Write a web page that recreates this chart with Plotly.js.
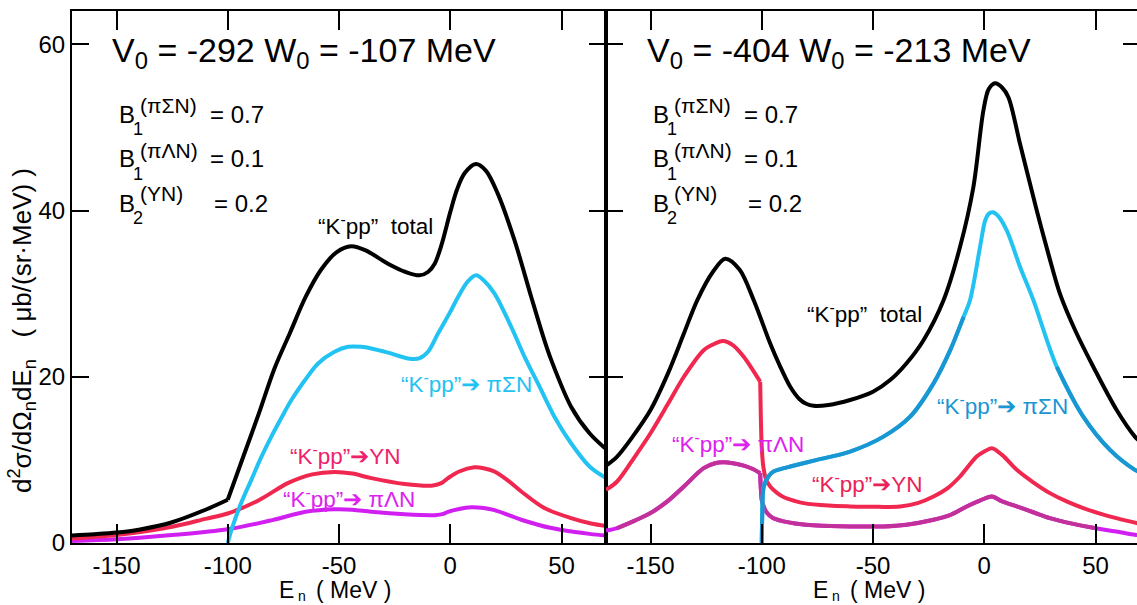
<!DOCTYPE html>
<html>
<head>
<meta charset="utf-8">
<script src="https://cdn.plot.ly/plotly-3.0.1.min.js"></script>
<style>
html,body{margin:0;padding:0;overflow:hidden;background:#fff;}
#chart{width:1140px;height:605px;}
</style>
</head>
<body>
<div id="chart"></div>
<script>
// ---------- Left panel: V0=-292, W0=-107 MeV ----------
const L_total_x = [-170,-160,-150,-140,-125,-110,-100,-93,-86,-79,-72,-65,-58,-51,-44.5,-38,-28,-20,-13.8,-10,-7,-4,0,3,6.5,11.5,16,21.4,28.9,36.4,42.3,45.4,54.3,62.6,70];
const L_total_y = [0.9,1.05,1.25,1.6,2.5,4.0,5.2,10.4,15.6,21.0,25.3,29.6,32.9,35.0,35.7,35.2,33.6,32.6,32.2,32.6,33.6,35.8,39.8,42.5,44.5,45.6,44.8,42.0,36.4,29.6,24.4,22.0,16.4,13.2,11.3];

const L_piSN_x = [-100,-98.3,-94,-89.4,-85,-80.4,-76,-71.4,-65,-59.4,-52,-45.9,-40,-35.5,-28,-19,-14,-10,-5.5,0,3.5,8,11.7,15,19.9,27.4,33.4,39.4,46.8,54.3,62.6,70];
const L_piSN_y = [0,1.6,4.8,7.6,10.3,12.8,15.0,17.2,19.7,21.6,23.0,23.6,23.6,23.4,22.9,22.2,22.2,23.0,25.2,27.8,29.6,31.5,32.2,31.6,30.0,26.0,22.4,19.2,15.2,12.0,9.2,7.8];

const L_YN_x = [-170,-150,-125,-110,-100,-86,-73,-62,-52,-44,-35.5,-20.5,-8.5,-4,-1,4,10.9,15,19.9,26,31.9,42.3,54.3,63.3,70];
const L_YN_y = [0.55,0.95,1.95,2.9,3.55,5.15,7.2,8.25,8.55,8.35,7.8,7.1,6.9,7.2,7.8,8.6,9.1,9.0,8.6,7.5,6.2,4.2,3.0,2.35,2.05];

const L_piLN_x = [-170,-150,-125,-100,-80,-65,-52,-44,-35.5,-20.5,-7,-3,-1,4,9.4,15,19.9,31.9,45.4,62.6,70];
const L_piLN_y = [0.25,0.45,0.95,1.65,2.75,3.75,4.05,4.0,3.75,3.45,3.35,3.5,3.75,4.1,4.3,4.2,3.95,2.8,1.8,1.1,0.9];

// ---------- Right panel: V0=-404, W0=-213 MeV ----------
const R_total_x = [-170,-165,-158,-150,-142,-135,-129,-122,-116.4,-110,-103.6,-96.2,-92,-87.2,-83,-80,-76.7,-70,-60.3,-50,-42.3,-35,-27.3,-18.3,-10.9,-4.9,-0.4,2,4.9,8,10.9,16.1,23.6,29,34,41,49,59.5,67.7,70];
const R_total_y = [9.3,10.4,12.8,16.0,20.5,25.2,29.2,32.6,34.2,32.9,29.2,24.0,21.4,18.8,17.3,16.75,16.5,16.6,17.2,18.2,19.6,21.6,24.4,29.2,35.6,42.8,52.0,54.6,55.3,54.8,53.6,48.0,40.0,34.6,30.0,25.5,21.2,16.0,12.8,12.2];

const R_piSN_x = [-100,-99.8,-99.1,-97,-94.7,-90,-87.2,-75.2,-60.3,-45.3,-33.3,-22.8,-15.3,-9.3,-6.4,-1.9,0.4,2,3.8,6,10.1,16.1,22.1,32.6,44.5,56.5,67.7,70];
const R_piSN_y = [0,3.0,6.8,8.0,8.6,9.0,9.2,10.0,11.0,12.8,15.2,19.2,23.2,27.2,29.2,35.6,38.8,39.6,39.8,39.4,37.6,33.2,29.2,21.2,15.2,11.2,8.8,8.5];

const R_YN_x = [-170,-165,-157,-150,-142,-135,-126.1,-121,-117.4,-113,-108.1,-104,-100.7,-100.4,-100,-99.3,-98,-96.2,-93,-90,-85,-81.2,-70,-60.3,-50,-37.8,-30,-22.8,-16,-10.9,-3.4,0,3.4,8,14.6,22,29.5,37,44.5,55,67.7,70];
const R_YN_y = [6.4,7.4,10.4,13.2,16.8,20.0,23.2,24.0,24.3,23.8,22.4,20.8,19.4,15.0,11.5,9.2,7.6,6.8,6.0,5.5,5.05,4.8,4.5,4.4,4.35,4.4,4.8,5.6,6.7,8.0,10.4,11.0,11.4,10.6,8.8,7.3,6.0,5.0,4.2,3.3,2.45,2.3];

const R_piLN_x = [-170,-165,-157,-150,-142,-135,-126.1,-121,-117.4,-113,-108.1,-104,-100.7,-100.4,-100,-99,-97.6,-95,-90.2,-85,-75.2,-60,-45.3,-35,-22.8,-15,-7.9,-2,3.4,8,14.6,22,29.5,40,49.6,60,67.7,70];
const R_piLN_y = [1.5,1.8,2.7,3.6,5.1,6.8,9.0,9.6,9.7,9.6,9.3,8.9,8.4,6.5,5.2,4.3,3.6,3.0,2.6,2.35,2.1,2.0,2.0,2.2,2.8,3.4,4.4,5.1,5.6,5.0,4.4,3.7,3.0,2.3,1.8,1.35,1.0,0.95];

// tick values / labels
const xTicks = [-150,-100,-50,0,50];
const yTicks = [0,20,40,60];

// colours
const C_BLACK = '#000000';
const C_CYAN = '#22c3f3';
const C_BLUE = '#1a96d2';
const C_RED = '#f02850';
const C_MAG = '#d01ff0';
const C_PURP = '#c2319a';

const FONT = 'Liberation Sans, Arial, Helvetica, sans-serif';

// subset of a series between two energies (used to split at threshold kinks
// and to overlay the blended colour segments)
function seg(xs, ys, lo, hi) {
  const ox = [], oy = [];
  for (let i = 0; i < xs.length; i++) {
    if (xs[i] >= lo && xs[i] <= hi) { ox.push(xs[i]); oy.push(ys[i]); }
  }
  return {x: ox, y: oy};
}
function tr(s, color, ax) {
  return {x: s.x, y: s.y, type: 'scatter', mode: 'lines', xaxis: ax[0], yaxis: ax[1],
          line: {color: color, width: 4, shape: 'spline', smoothing: 0.9}, hoverinfo: 'skip', showlegend: false};
}
const A1 = ['x', 'y'], A2 = ['x2', 'y2'];
const K = -100.7; // threshold kink, right panel

const traces = [
  tr(seg(L_piLN_x, L_piLN_y, -170, 70), C_MAG, A1),
  tr(seg(L_YN_x, L_YN_y, -170, 70), C_RED, A1),
  tr(seg(L_piSN_x, L_piSN_y, -100, 70), C_CYAN, A1),
  tr(seg(L_total_x, L_total_y, -170, -100), C_BLACK, A1),
  tr(seg(L_total_x, L_total_y, -100, 70), C_BLACK, A1),

  tr(seg(R_piLN_x, R_piLN_y, -170, K), C_MAG, A2),
  tr(seg(R_piLN_x, R_piLN_y, K, 70), C_MAG, A2),
  tr(seg(R_piLN_x, R_piLN_y, -165, K), C_PURP, A2),
  tr(seg(R_piLN_x, R_piLN_y, K, 49.6), C_PURP, A2),
  tr(seg(R_YN_x, R_YN_y, -170, K), C_RED, A2),
  tr(seg(R_YN_x, R_YN_y, K, 70), C_RED, A2),
  tr(seg(R_piSN_x, R_piSN_y, -100, 70), C_CYAN, A2),
  tr(seg(R_piSN_x, R_piSN_y, -100, -9.3), C_BLUE, A2),
  tr(seg(R_piSN_x, R_piSN_y, 32.6, 70), C_BLUE, A2),
  tr(seg(R_total_x, R_total_y, -170, 70), C_BLACK, A2)
];

function xax(domain, anchor) {
  return {domain: domain, anchor: anchor, range: [-170, 70], tickvals: xTicks, ticktext: xTicks.map(String),
          ticks: 'inside', ticklen: 19, tickwidth: 2, tickcolor: '#000', showline: true, linewidth: 2,
          linecolor: '#000', mirror: 'ticks', showgrid: false, zeroline: false, ticklabelstandoff: 0,
          tickfont: {family: FONT, size: 24, color: '#000'}};
}
function yax(anchor, labels) {
  return {anchor: anchor, range: [0, 64], tickvals: yTicks, ticktext: yTicks.map(String),
          showticklabels: labels, ticks: 'inside', ticklen: 17, tickwidth: 2, tickcolor: '#000',
          showline: true, linewidth: 2, linecolor: '#000', mirror: 'ticks', showgrid: false, zeroline: false,
          tickfont: {family: FONT, size: 24, color: '#000'}};
}

function txt(ax, x, y, text, size, color) {
  return {xref: ax[0], yref: ax[1], x: x, y: y, text: text, showarrow: false,
          xanchor: 'left', yanchor: 'middle', font: {family: FONT, size: size, color: color}};
}

function panelText(ax, title, xT, xB, xSub, xSup, xEq) {
  return [
    txt(ax, xT, 59.0, title, 34, '#000'),
    txt(ax, xB, 51.6, 'B', 24, '#000'),
    txt(ax, xSub, 49.8, '1', 18, '#000'),
    txt(ax, xSup, 52.6, '(πΣN)', 21, '#000'),
    txt(ax, xEq, 51.6, '= 0.7', 24, '#000'),
    txt(ax, xB, 46.2, 'B', 24, '#000'),
    txt(ax, xSub, 44.4, '1', 18, '#000'),
    txt(ax, xSup, 47.2, '(πΛN)', 21, '#000'),
    txt(ax, xEq, 46.2, '= 0.1', 24, '#000'),
    txt(ax, xB, 40.9, 'B', 24, '#000'),
    txt(ax, xSub, 39.1, '2', 18, '#000'),
    txt(ax, xSup, 42.1, '(YN)', 21, '#000'),
    txt(ax, xEq + 1.8, 40.9, '= 0.2', 24, '#000')
  ];
}

// x-axis title "E_n ( MeV )", built from three pieces so the subscript fits the page
function xTitle(off) {
  const base = {xref: 'paper', yref: 'paper', showarrow: false, yanchor: 'middle'};
  return [
    Object.assign({}, base, {x: off + 0.2100, y: -0.088, text: 'E', xanchor: 'right',
      font: {family: FONT, size: 23, color: '#000'}}),
    Object.assign({}, base, {x: off + 0.2095, y: -0.0995, text: 'n', xanchor: 'left',
      font: {family: FONT, size: 14, color: '#000'}}),
    Object.assign({}, base, {x: off + 0.2265, y: -0.088, text: '( MeV )', xanchor: 'left',
      font: {family: FONT, size: 23, color: '#000'}})
  ];
}

const annotations = []
  .concat(panelText(A1, 'V<sub>0</sub> = -292 W<sub>0</sub> = -107 MeV', -153.1, -149.6, -143.5, -140.2, -109.1))
  .concat(panelText(A2, 'V<sub>0</sub> = -404 W<sub>0</sub> = -213 MeV', -152.5, -149.8, -143.7, -140.4, -108.9))
  .concat(xTitle(0)).concat(xTitle(0.5))
  .concat([
    txt(A1, -60.2, 38.3, '“K<sup>-</sup>pp”  total', 22.5, '#000'),
    txt(A1, -22.9, 19.2, '“K<sup>-</sup>pp”➔ πΣN', 22.5, C_CYAN),
    txt(A1, -72.7, 10.6, '“K<sup>-</sup>pp”➔YN', 22.5, '#f0206a'),
    txt(A1, -75.9, 5.4, '“K<sup>-</sup>pp”➔ πΛN', 22.5, '#dd22ee'),
    txt(A2, -80.6, 27.7, '“K<sup>-</sup>pp”  total', 22.5, '#000'),
    txt(A2, -22.2, 16.6, '“K<sup>-</sup>pp”➔ πΣN', 22.5, C_BLUE),
    txt(A2, -141.2, 12.0, '“K<sup>-</sup>pp”➔ πΛN', 22.5, '#dd22ee'),
    txt(A2, -78.4, 7.2, '“K<sup>-</sup>pp”➔YN', 22.5, '#ea2258'),
    {xref: 'paper', yref: 'paper', x: -0.047, y: 0.40, text: 'd<sup>2</sup>σ/dΩ<sub>n</sub>dE<sub>n</sub>   ( μb/(sr·MeV) )',
     textangle: -90, showarrow: false, xanchor: 'center', yanchor: 'middle',
     font: {family: FONT, size: 26, color: '#000'}}
  ]);

const layout = {
  width: 1140, height: 605,
  margin: {l: 72, r: 0, t: 11, b: 62},
  paper_bgcolor: '#fff', plot_bgcolor: '#fff',
  showlegend: false,
  xaxis: xax([0, 0.5], 'y'),
  yaxis: yax('x', true),
  xaxis2: xax([0.5, 1], 'y2'),
  yaxis2: yax('x2', false),
  annotations: annotations
};

Plotly.newPlot('chart', traces, layout, {staticPlot: true, displayModeBar: false});
</script>
</body>
</html>
